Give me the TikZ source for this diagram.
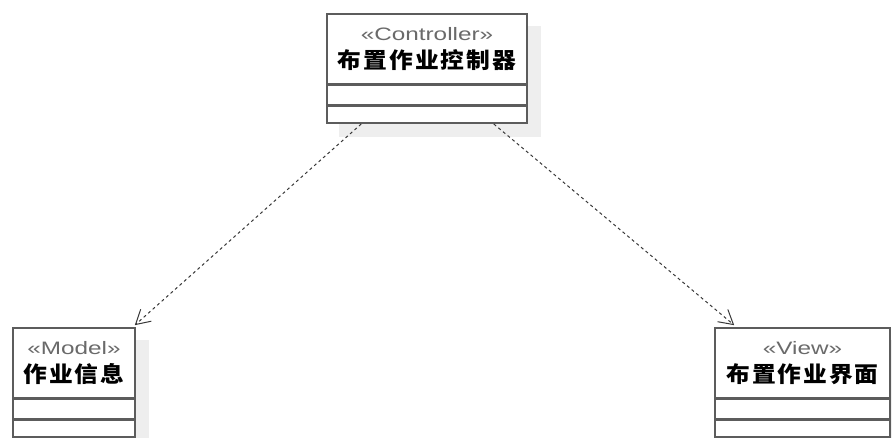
\documentclass[tikz,border=0pt]{standalone}
\usepackage{fontspec}
\setmainfont{Liberation Sans}
\newfontfamily\cjk{Noto Sans CJK SC}[FakeStretch=1.08,LetterSpace=9]
\newfontfamily\stereofont{Liberation Sans}[FakeStretch=1.35]
\usetikzlibrary{positioning,arrows.meta,backgrounds}
\definecolor{boxline}{HTML}{5C5C5C}
\definecolor{stereogray}{HTML}{6A6A6A}
\definecolor{shadowgray}{HTML}{EEEEEE}
\definecolor{depgray}{HTML}{383838}
\newcommand{\stereo}[1]{{\stereofont\color{stereogray}«#1»}}
\newcommand{\cname}[1]{{\cjk\bfseries\fontsize{22}{28}\selectfont #1}}

\begin{document}
\begin{tikzpicture}[x=1pt,y=1pt,
  classname/.style={draw=boxline,line width=1.6pt,fill=white,align=center,
    inner sep=0pt,minimum height=70pt,font=\fontsize{18}{28}\selectfont},
  attrpart/.style={draw=boxline,line width=1.6pt,fill=white,inner sep=0pt,minimum height=19pt},
  opspart/.style={draw=boxline,line width=1.6pt,fill=white,inner sep=0pt,minimum height=17pt},
  depend/.style={draw=depgray,line width=1pt,dash pattern=on 3pt off 3pt,
    -{Straight Barb[length=14pt,width=16pt,line width=1pt]}}]
  \useasboundingbox (0,0) rectangle (892,438);

  %controller class
  \node[classname,minimum width=200pt] (ctrl) at (427,389) {\stereo{Controller}\\\cname{布置作业控制器}};
  \node[attrpart,minimum width=200pt,below=0pt of ctrl] (ctrlattr) {};
  \node[opspart,minimum width=200pt,below=0pt of ctrlattr] (ctrlops) {};

  %model class
  \node[classname,minimum width=122pt] (model) at (74,75) {\stereo{Model}\\\cname{作业信息}};
  \node[attrpart,minimum width=122pt,below=0pt of model] (modelattr) {};
  \node[opspart,minimum width=122pt,below=0pt of modelattr] (modelops) {};

  %view class
  \node[classname,minimum width=175pt] (view) at (802.5,75) {\stereo{View}\\\cname{布置作业界面}};
  \node[attrpart,minimum width=175pt,below=0pt of view] (viewattr) {};
  \node[opspart,minimum width=175pt,below=0pt of viewattr] (viewops) {};

  %shadows
  \begin{scope}[on background layer]
    \fill[shadowgray] ([shift={(13,-13)}]ctrl.north west) rectangle ([shift={(13,-13)}]ctrlops.south east);
    \fill[shadowgray] ([shift={(13,-13)}]model.north west) rectangle ([shift={(13,-13)}]modelops.south east);
    \fill[shadowgray] ([shift={(13,-13)}]view.north west) rectangle ([shift={(13,-13)}]viewops.south east);
  \end{scope}

  %dependencies
  \draw[depend] ([xshift=35pt]ctrlops.south west) -- ([shift={(-1,2)}]model.north east);
  \draw[depend] ([xshift=-34pt]ctrlops.south east) -- ([shift={(20,2)}]view.north west);
\end{tikzpicture}
\end{document}
